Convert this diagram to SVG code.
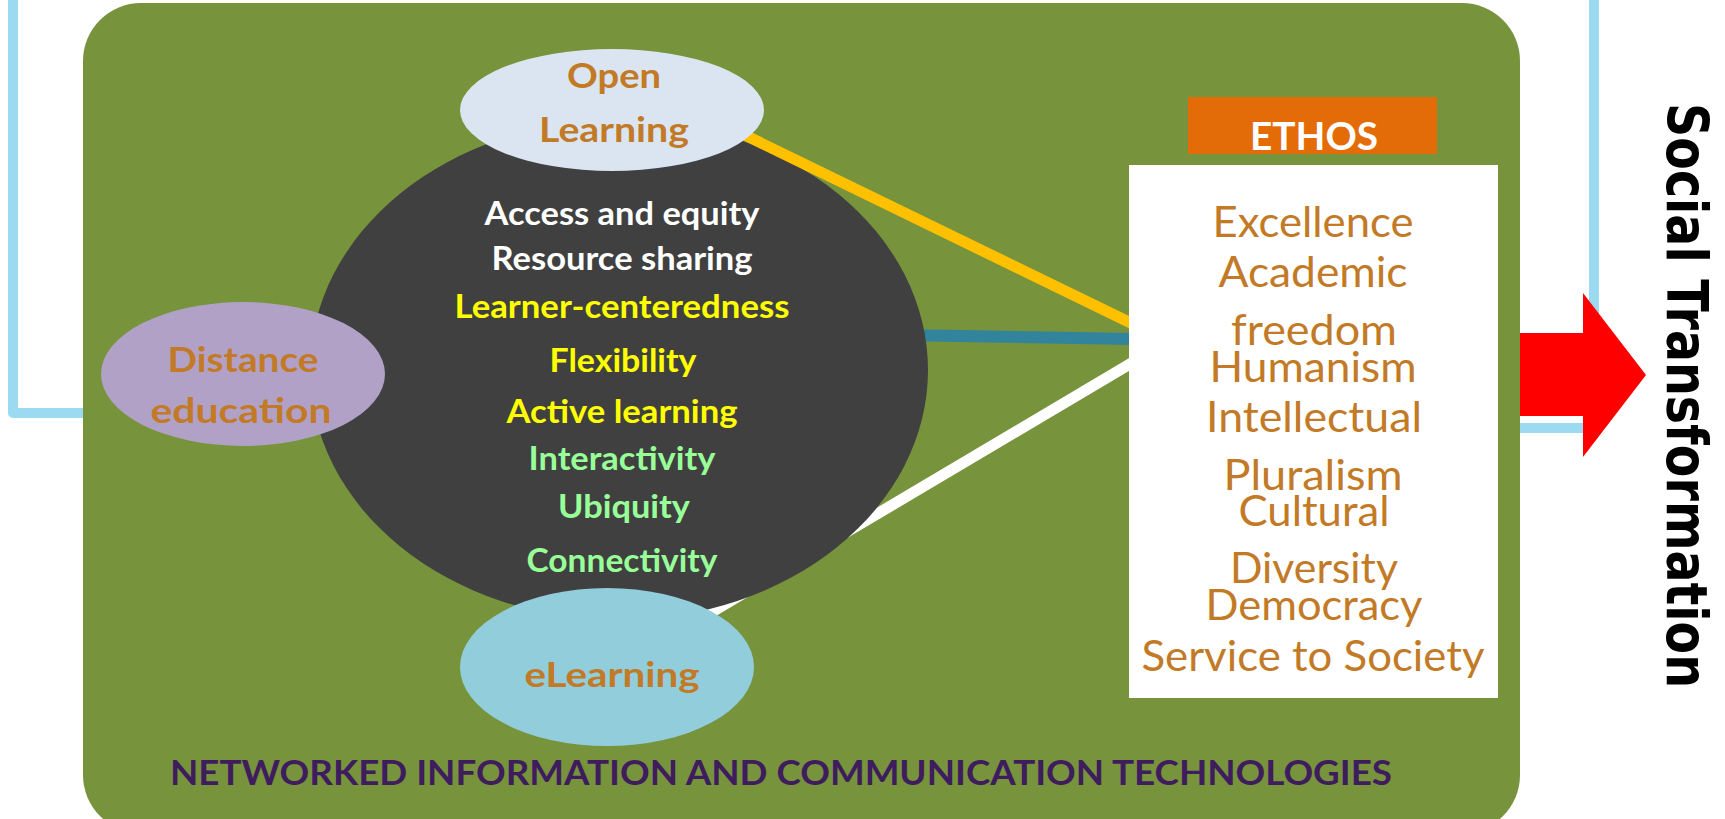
<svg xmlns="http://www.w3.org/2000/svg" width="1725" height="819" viewBox="0 0 1725 819">
<style>
.lbl{font-family:Lato,"Open Sans","Liberation Sans",sans-serif;font-weight:700;text-anchor:middle}
.eth{font-family:Lato,"Open Sans","Liberation Sans",sans-serif;font-weight:400;font-size:42px;fill:#C27A26;text-anchor:middle}
.node-lbl{font-size:35px;fill:#C27A26}
.mid{font-size:32px}
.w{fill:#FFFFFF}.y{fill:#FFFF00}.g{fill:#99FF99}
.blue{fill:none;stroke:#9BDAF0;stroke-width:10;stroke-linejoin:round;stroke-linecap:round}
</style>
<rect width="1725" height="819" fill="#FFFFFF"/>
<g id="frame-lines">
<polyline class="blue" points="13,-10 13,413 90,413"/>
<polyline class="blue" points="1594,-10 1594,428 1515,428" style="stroke-linecap:butt"/>
</g>
<g id="ict-panel">
<rect x="83" y="3" width="1437" height="830" rx="58" ry="58" fill="#77933C"/>
<text class="lbl" x="781" y="785" font-size="35" fill="#3E1C5E" textLength="1222" lengthAdjust="spacingAndGlyphs">NETWORKED INFORMATION AND COMMUNICATION TECHNOLOGIES</text>
</g>
<g id="connectors">
<line x1="700" y1="619" x2="1135" y2="361" stroke="#FFFFFF" stroke-width="11"/>
<line x1="900" y1="335" x2="1135" y2="339" stroke="#31849B" stroke-width="12"/>
</g>
<g id="core">
<ellipse cx="619" cy="370" rx="309" ry="250" fill="#404040"/>
<text class="lbl mid w" x="622" y="225" textLength="275" lengthAdjust="spacingAndGlyphs">Access and equity</text>
<text class="lbl mid w" x="622" y="270" textLength="261" lengthAdjust="spacingAndGlyphs">Resource sharing</text>
<text class="lbl mid y" x="622" y="318" textLength="335" lengthAdjust="spacingAndGlyphs">Learner-centeredness</text>
<text class="lbl mid y" x="623" y="372" textLength="147" lengthAdjust="spacingAndGlyphs">Flexibility</text>
<text class="lbl mid y" x="622" y="423" textLength="231" lengthAdjust="spacingAndGlyphs">Active learning</text>
<text class="lbl mid g" x="622" y="470" textLength="187" lengthAdjust="spacingAndGlyphs">Interactivity</text>
<text class="lbl mid g" x="624" y="518" textLength="132" lengthAdjust="spacingAndGlyphs">Ubiquity</text>
<text class="lbl mid g" x="622" y="572" textLength="191" lengthAdjust="spacingAndGlyphs">Connectivity</text>
</g>
<g id="connectors-front">
<line x1="650" y1="89" x2="1135" y2="325" stroke="#FFC000" stroke-width="11"/>
</g>
<g id="open-learning">
<ellipse cx="612" cy="110" rx="152" ry="61" fill="#DBE5F1"/>
<text class="lbl node-lbl" x="614" y="88" textLength="94" lengthAdjust="spacingAndGlyphs">Open</text>
<text class="lbl node-lbl" x="614" y="142" textLength="150" lengthAdjust="spacingAndGlyphs">Learning</text>
</g>
<g id="distance-education">
<ellipse cx="243" cy="374" rx="142" ry="72" fill="#B2A1C7"/>
<text class="lbl node-lbl" x="243" y="372" textLength="151" lengthAdjust="spacingAndGlyphs">Distance</text>
<text class="lbl node-lbl" x="241" y="423" textLength="181" lengthAdjust="spacingAndGlyphs">education</text>
</g>
<g id="elearning">
<ellipse cx="607" cy="667" rx="147" ry="79" fill="#92CDDC"/>
<text class="lbl node-lbl" x="612" y="687" textLength="175" lengthAdjust="spacingAndGlyphs">eLearning</text>
</g>
<g id="ethos">
<rect x="1188" y="97" width="249" height="57" fill="#E36C09"/>
<text class="lbl w" x="1314" y="150" font-size="39" textLength="128" lengthAdjust="spacingAndGlyphs">ETHOS</text>
<rect x="1129" y="165" width="369" height="533" fill="#FFFFFF"/>
<text class="eth" x="1313" y="237" textLength="201" lengthAdjust="spacingAndGlyphs">Excellence</text>
<text class="eth" x="1313" y="287" textLength="189" lengthAdjust="spacingAndGlyphs">Academic</text>
<text class="eth" x="1314" y="345" textLength="166" lengthAdjust="spacingAndGlyphs">freedom</text>
<text class="eth" x="1313" y="382" textLength="207" lengthAdjust="spacingAndGlyphs">Humanism</text>
<text class="eth" x="1314" y="432" textLength="216" lengthAdjust="spacingAndGlyphs">Intellectual</text>
<text class="eth" x="1313" y="490" textLength="179" lengthAdjust="spacingAndGlyphs">Pluralism</text>
<text class="eth" x="1314" y="526" textLength="151" lengthAdjust="spacingAndGlyphs">Cultural</text>
<text class="eth" x="1314" y="583" textLength="168" lengthAdjust="spacingAndGlyphs">Diversity</text>
<text class="eth" x="1314" y="620" textLength="217" lengthAdjust="spacingAndGlyphs">Democracy</text>
<text class="eth" x="1313" y="671" textLength="343" lengthAdjust="spacingAndGlyphs">Service to Society</text>
</g>
<g id="arrow">
<polygon points="1520,333 1583,333 1583,293 1646,375 1583,457 1583,416 1520,416" fill="#FF0000"/>
</g>
<g id="social-transformation">
<text transform="translate(1667,103) rotate(90)" x="0" y="0" font-family="'DejaVu Sans',Verdana,sans-serif" font-weight="700" font-size="57" fill="#000000" textLength="585" lengthAdjust="spacingAndGlyphs">Social Transformation</text>
</g>
</svg>
